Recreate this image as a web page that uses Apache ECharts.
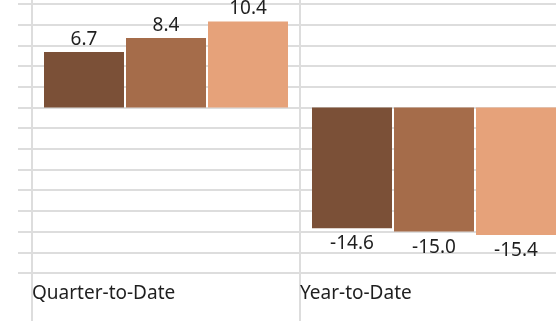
<!DOCTYPE html>
<html>
<head>
<meta charset="utf-8">
<script src="https://cdn.jsdelivr.net/npm/echarts@6/dist/echarts.min.js"></script>
<style>
  html, body { margin: 0; padding: 0; background: #ffffff; }
  #chart { width: 556px; height: 321px; }
</style>
</head>
<body>
<div id="chart"></div>
<script>
// Periods shown on the category axis
const categories = ['Quarter-to-Date', 'Year-to-Date'];

// Returns (%) for each of the three series
const series1 = [6.7, -14.6];
const series2 = [8.4, -15.0];
const series3 = [10.4, -15.4];

const seriesNames = ['Series 1', 'Series 2', 'Series 3'];
const seriesColors = ['#7b5037', '#a56c4a', '#e6a27a'];

const gridColor = '#dddddd';
const textColor = '#1f1f1f';
const fontFamily = '"Segoe UI", "Noto Sans", "Open Sans", sans-serif';

// Positive values are labelled above the bar, negative ones below it
function toData(values) {
  return values.map(v => ({
    value: v,
    label: v < 0 ? { position: 'bottom', distance: 6 } : { position: 'top', distance: 3 }
  }));
}

const chart = echarts.init(document.getElementById('chart'), null, { renderer: 'canvas' });

const boundaryCats = categories.concat(['']);

chart.setOption({
  animation: false,
  backgroundColor: '#ffffff',
  grid: {
    left: 32, top: 4, width: 536, height: 269,
    containLabel: false, outerBoundsMode: 'none'
  },
  xAxis: [
    {
      // bars sit in the middle of each category band
      type: 'category',
      data: categories,
      position: 'bottom',
      boundaryGap: true,
      axisLine: { show: false },
      axisTick: { show: false },
      axisLabel: { show: false },
      splitLine: { show: false }
    },
    {
      // band boundaries: vertical separators and left-aligned period names
      type: 'category',
      data: boundaryCats,
      position: 'bottom',
      boundaryGap: false,
      axisLine: { show: false },
      axisTick: { show: true, length: 50, lineStyle: { color: gridColor, width: 2 } },
      axisLabel: {
        show: true, align: 'left', margin: 11,
        fontSize: 19, color: textColor, fontFamily: fontFamily
      },
      splitLine: { show: true, lineStyle: { color: gridColor, width: 2 } }
    },
    {
      // short extension of the separators above the plot
      type: 'category',
      data: boundaryCats,
      position: 'top',
      boundaryGap: false,
      axisLine: { show: false },
      axisTick: { show: true, length: 6, lineStyle: { color: gridColor, width: 2 } },
      axisLabel: { show: false },
      splitLine: { show: false }
    }
  ],
  yAxis: {
    type: 'value',
    min: -20,
    max: 12.5,
    interval: 2.5,
    axisLine: { show: false },
    axisTick: { show: true, length: 14, lineStyle: { color: gridColor, width: 2 } },
    axisLabel: { show: false },
    splitLine: { show: true, lineStyle: { color: gridColor, width: 2 } }
  },
  series: [series1, series2, series3].map((vals, i) => ({
    name: seriesNames[i],
    type: 'bar',
    xAxisIndex: 0,
    data: toData(vals),
    barWidth: 80,
    barGap: '2.5%',
    itemStyle: { color: seriesColors[i] },
    label: {
      show: true,
      fontSize: 19,
      color: textColor,
      fontFamily: fontFamily,
      formatter: p => p.value.toFixed(1)
    }
  }))
});
</script>
</body>
</html>
